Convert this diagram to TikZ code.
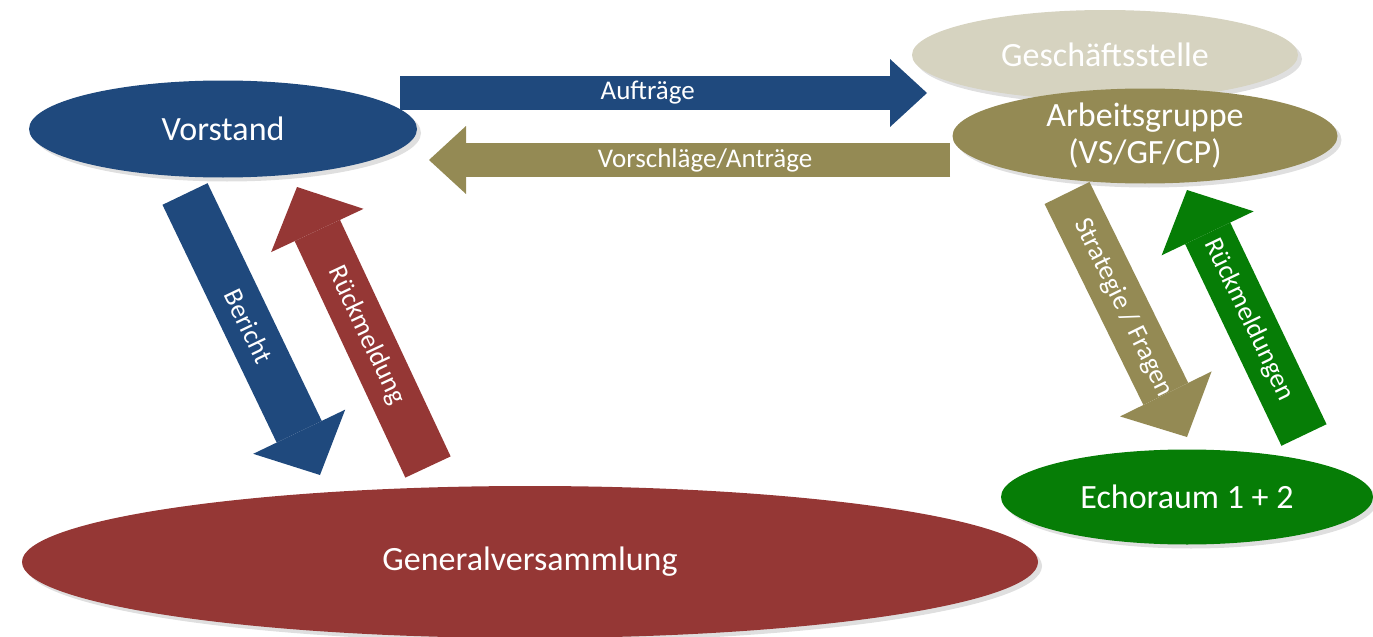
\documentclass[tikz,border=0pt]{standalone}
\usepackage{fontspec}
\setmainfont{Carlito}
\usetikzlibrary{shapes.geometric, arrows.meta, shadows}

\definecolor{vsblue}{RGB}{31,73,125}
\definecolor{gvred}{RGB}{149,55,53}
\definecolor{agolive}{RGB}{148,138,84}
\definecolor{gslight}{RGB}{214,211,192}
\definecolor{echogreen}{RGB}{6,125,6}

\begin{document}
\begin{tikzpicture}[
        x=0.5pt, y=-0.5pt,
        blob/.style={ellipse, inner sep=0pt, text=white, align=center,
            font=\fontsize{17}{18.5}\selectfont,
            drop shadow={opacity=0.25, shadow xshift=2pt, shadow yshift=-2pt}},
        flat/.style={line width=17pt, -{Triangle[length=18.5pt, width=34pt, line width=0pt]}},
        steep/.style={line width=25pt, -{Triangle[length=24pt, width=51pt, line width=0pt]}},
        tag/.style={pos=0.47, sloped, text=white, font=\fontsize{13.5}{16}\selectfont}
        ]
            \useasboundingbox (0,0) rectangle (1373,637);

            % ellipses
            \node[blob, fill=vsblue, minimum width=194pt, minimum height=48.5pt] (VS) at (223,129) {Vorstand};
            \node[blob, fill=gslight, minimum width=193pt, minimum height=45pt] (GS) at (1105,55) {Geschäftsstelle};
            \node[blob, fill=agolive, minimum width=192.5pt, minimum height=47.5pt] (AG) at (1145,136) {Arbeitsgruppe\\(VS/GF/CP)};
            \node[blob, fill=echogreen, minimum width=186pt, minimum height=47.5pt] (ECHO) at (1187,497) {Echoraum 1 + 2};
            \node[blob, fill=gvred, minimum width=508pt, minimum height=76pt] (GV) at (530,562) {Generalversammlung};

            % arrow ends
            \coordinate (AUF-S) at (400,93);
            \coordinate (AUF-E) at (927,93);
            \coordinate (VOR-S) at (950,160);
            \coordinate (VOR-E) at (429,160);
            \coordinate (BER-S) at (185,194);
            \coordinate (BER-E) at (320,475);
            \coordinate (RUE-S) at (428,467);
            \coordinate (RUE-E) at (297,187);
            \coordinate (STR-S) at (1067,193);
            \coordinate (STR-E) at (1187,437);
            \coordinate (RMS-S) at (1304,435);
            \coordinate (RMS-E) at (1187,190);

            \draw[flat, vsblue] (AUF-S) -- node[tag] {Aufträge} (AUF-E);
            \draw[flat, agolive] (VOR-S) -- node[tag] {Vorschläge/Anträge} (VOR-E);
            \draw[steep, vsblue] (BER-S) -- node[tag] {Bericht} (BER-E);
            \draw[steep, gvred] (RUE-S) -- node[tag] {Rückmeldung} (RUE-E);
            \draw[steep, agolive] (STR-S) -- node[tag] {Strategie / Fragen} (STR-E);
            \draw[steep, echogreen] (RMS-S) -- node[tag] {Rückmeldungen} (RMS-E);
        \end{tikzpicture}
\end{document}
